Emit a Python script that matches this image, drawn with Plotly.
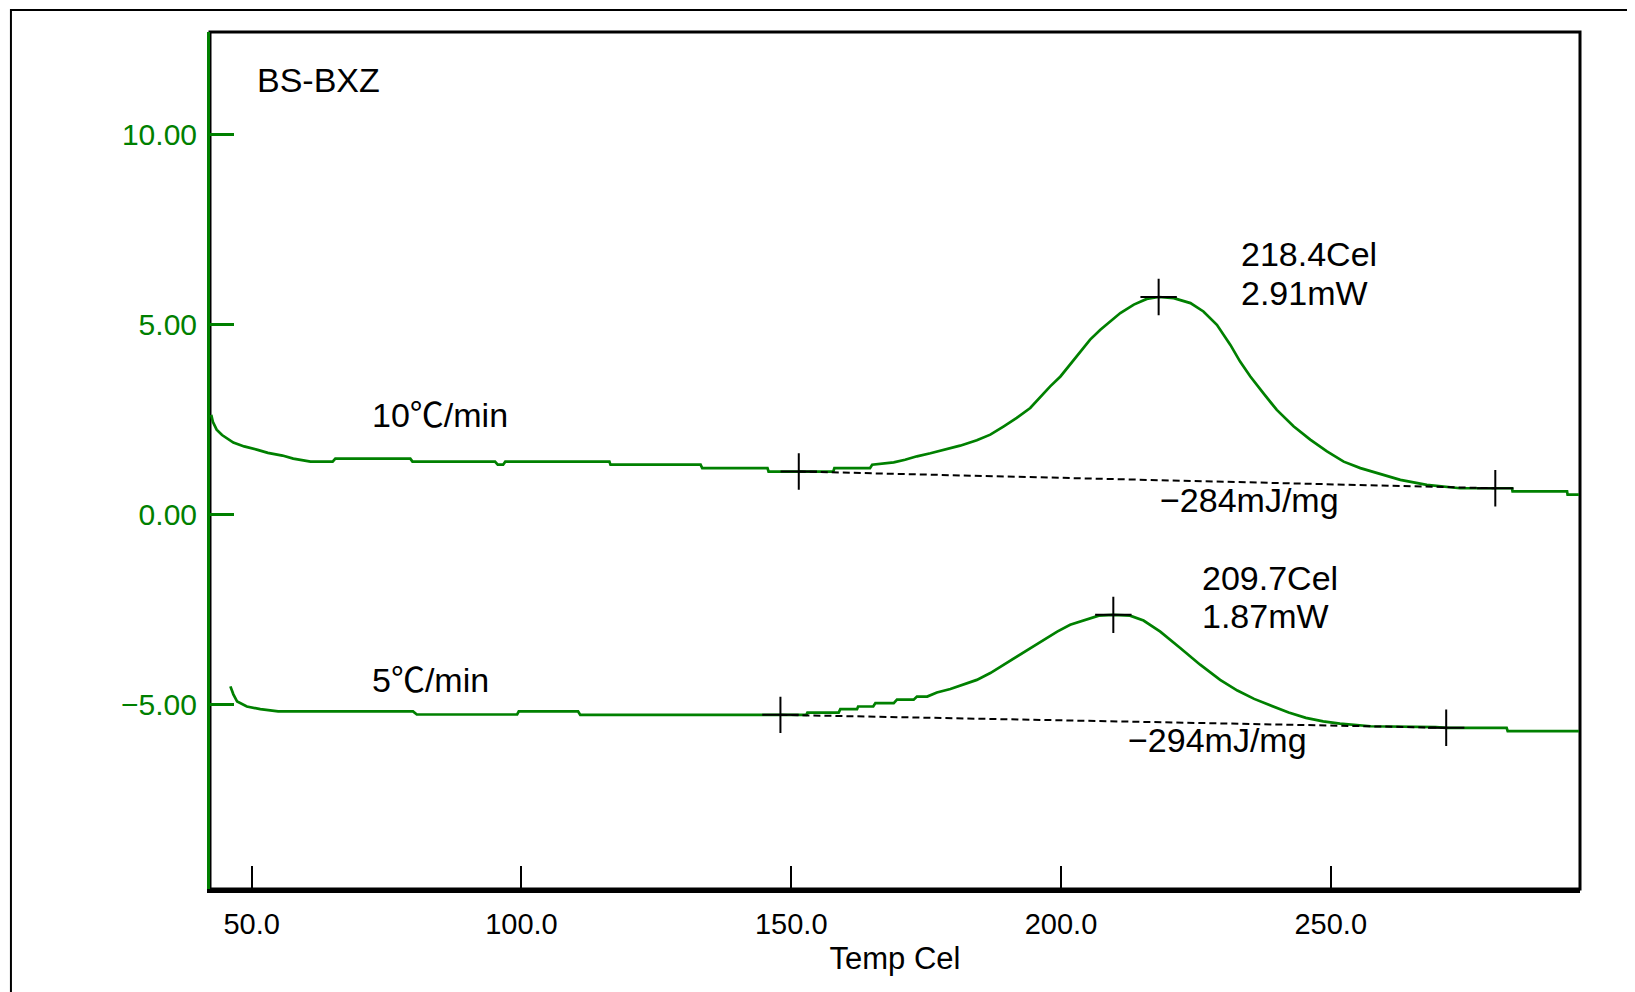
import plotly.graph_objects as go

# ---- data ----
temp_10 = [42.5, 42.8, 43.5, 44.5, 46.6, 48.6, 51.1, 53.0, 55.7, 57.7, 60.9, 65.0, 65.5, 79.4, 79.8,
           95.1, 95.6, 96.6, 97.0, 116.3, 116.5, 133.2, 133.5, 145.6, 145.8, 157.8, 158.0, 164.6,
           165.0, 169.0, 171.1, 173.3, 175.8, 178.2, 181.3, 184.4, 186.9, 189.4, 191.8, 194.3,
           196.2, 198.0, 199.9, 201.7, 203.6, 205.4, 207.3, 209.1, 211.0, 213.5, 215.9, 218.1,
           220.9, 224.0, 226.4, 228.9, 231.4, 233.2, 235.1, 237.5, 240.0, 243.1, 246.2, 249.3,
           252.4, 255.5, 259.2, 262.9, 267.8, 274.0, 280.5, 283.6, 283.7, 293.8, 293.9, 296.0]
heat_10 = [2.63, 2.45, 2.24, 2.10, 1.90, 1.80, 1.71, 1.63, 1.56, 1.48, 1.40, 1.40, 1.48, 1.48, 1.40,
           1.40, 1.32, 1.32, 1.40, 1.40, 1.32, 1.32, 1.23, 1.23, 1.14, 1.14, 1.23, 1.23,
           1.32, 1.38, 1.45, 1.54, 1.62, 1.71, 1.82, 1.96, 2.11, 2.33, 2.55, 2.81,
           3.11, 3.38, 3.64, 3.95, 4.30, 4.61, 4.87, 5.09, 5.31, 5.53, 5.68, 5.73,
           5.70, 5.57, 5.35, 5.00, 4.47, 4.03, 3.64, 3.20, 2.76, 2.33, 1.98, 1.67,
           1.40, 1.23, 1.07, 0.92, 0.79, 0.70, 0.70, 0.70, 0.62, 0.62, 0.53, 0.53]

temp_5 = [46.05, 46.6, 47.3, 49.1, 51.6, 54.9, 79.9, 80.6, 99.2, 99.5, 110.5, 110.9, 152.8, 153.0,
          158.8, 159.1, 162.2, 162.4, 165.2, 165.6, 169.0, 169.6, 172.7, 173.3, 175.2, 177.0,
          179.5, 181.9, 184.4, 186.9, 189.4, 191.8, 194.3, 196.8, 199.3, 201.7, 204.2, 207.0,
          209.7, 212.8, 215.3, 218.4, 222.1, 225.8, 229.5, 232.7, 235.8, 239.0, 242.2, 245.4,
          248.6, 251.7, 257.4, 269.5, 271.4, 282.6, 282.8, 296.0]
heat_5 = [-4.51, -4.72, -4.91, -5.04, -5.11, -5.17, -5.17, -5.25, -5.25, -5.17, -5.17, -5.26, -5.26, -5.20,
          -5.20, -5.11, -5.11, -5.04, -5.04, -4.95, -4.95, -4.86, -4.86, -4.78, -4.78, -4.67,
          -4.58, -4.47, -4.34, -4.16, -3.94, -3.72, -3.50, -3.29, -3.07, -2.89, -2.78, -2.65,
          -2.63, -2.65, -2.78, -3.07, -3.50, -3.94, -4.34, -4.62, -4.84, -5.02, -5.20, -5.34,
          -5.43, -5.49, -5.56, -5.58, -5.60, -5.60, -5.69, -5.69]

# baseline / peak markers (start, peak, end)
marks_10_t = [151.4, 218.1, 280.5]
marks_10_h = [1.14, 5.73, 0.70]
marks_5_t = [148.0, 209.7, 271.4]
marks_5_h = [-5.26, -2.63, -5.60]

x_ticks = [50, 100, 150, 200, 250]
x_ticktext = ["50.0", "100.0", "150.0", "200.0", "250.0"]
y_ticks = [-5, 0, 5, 10]
y_ticktext = ["\u22125.00", "0.00", "5.00", "10.00"]

# annotation texts: (text, x, y)
labels = [
    ("BS-BXZ", 50.7, 11.44),
    ("10\u2103/min", 72.0, 2.63),
    ("5\u2103/min", 72.0, -4.34),
    ("218.4Cel", 233.0, 6.86),
    ("2.91mW", 233.0, 5.84),
    ("\u2212284mJ/mg", 217.9, 0.38),
    ("209.7Cel", 225.8, -1.67),
    ("1.87mW", 225.8, -2.65),
    ("\u2212294mJ/mg", 212.1, -5.92),
]

GREEN = "#008000"
FONT = "Liberation Sans, Arial, Noto Sans CJK JP, sans-serif"

fig = go.Figure()

fig.add_trace(go.Scatter(x=temp_10, y=heat_10, mode="lines",
                         line=dict(color=GREEN, width=2.7), showlegend=False, hoverinfo="skip"))
fig.add_trace(go.Scatter(x=temp_5, y=heat_5, mode="lines",
                         line=dict(color=GREEN, width=2.7), showlegend=False, hoverinfo="skip"))

# dashed baselines between first and last marker
fig.add_trace(go.Scatter(x=[marks_10_t[0], marks_10_t[2]], y=[marks_10_h[0], marks_10_h[2]],
                         mode="lines", line=dict(color="black", width=2, dash="7px,4px"),
                         showlegend=False, hoverinfo="skip"))
fig.add_trace(go.Scatter(x=[marks_5_t[0], marks_5_t[2]], y=[marks_5_h[0], marks_5_h[2]],
                         mode="lines", line=dict(color="black", width=2, dash="7px,4px"),
                         showlegend=False, hoverinfo="skip"))

fig.add_trace(go.Scatter(x=marks_10_t + marks_5_t, y=marks_10_h + marks_5_h, mode="markers",
                         marker=dict(symbol="cross-thin", size=26, color="black",
                                     line=dict(width=2, color="black")),
                         showlegend=False, hoverinfo="skip"))

for text, x, y in labels:
    fig.add_annotation(x=x, y=y, xref="x", yref="y", text=text, showarrow=False,
                       xanchor="left", yanchor="middle",
                       font=dict(family=FONT, size=34, color="black"))

fig.update_layout(
    width=1635, height=992,
    margin=dict(l=202, r=63, t=24, b=111),
    paper_bgcolor="white", plot_bgcolor="white",
    shapes=[
        dict(type="rect", xref="paper", yref="paper", x0=0, x1=1, y0=0, y1=1,
             line=dict(color="black", width=3), layer="below"),
        dict(type="rect", xref="paper", yref="paper", x0=-0.1453, x1=1.1, y0=-0.2, y1=1.0257,
             line=dict(color="black", width=2), layer="below"),
    ],
)

fig.update_xaxes(
    range=[42.27, 296.2], tickmode="array", tickvals=x_ticks, ticktext=x_ticktext,
    ticks="inside", ticklen=23, tickwidth=2, tickcolor="black",
    showline=True, linecolor="black", linewidth=4, showgrid=False, zeroline=False,
    tickfont=dict(family=FONT, size=29, color="black"), ticklabelstandoff=6,
    title=dict(text="Temp Cel", font=dict(family=FONT, size=31, color="black"), standoff=10),
)
fig.update_yaxes(
    range=[-9.84, 12.70], tickmode="array", tickvals=y_ticks, ticktext=y_ticktext,
    ticks="inside", ticklen=24, tickwidth=2.5, tickcolor=GREEN,
    showline=True, linecolor=GREEN, linewidth=3, showgrid=False, zeroline=False,
    tickfont=dict(family=FONT, size=30, color=GREEN), ticklabelstandoff=4,
)

fig.write_html("out.html")
